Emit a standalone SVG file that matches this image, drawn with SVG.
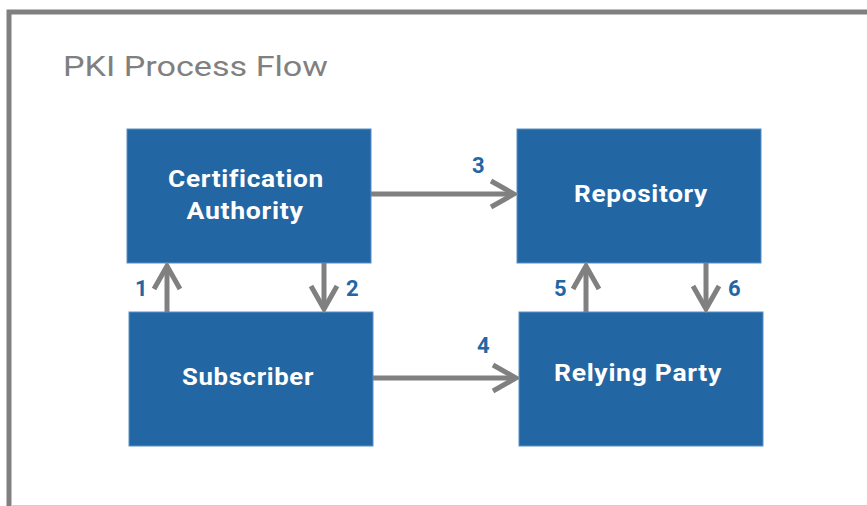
<svg xmlns="http://www.w3.org/2000/svg" width="867" height="506" viewBox="0 0 867 506">
<style>
.box{fill:#2366a4;stroke:#5b8fc4;stroke-width:1}
.lbl{font-family:Roboto,"Liberation Sans",sans-serif;font-weight:bold;font-size:23px;fill:#ffffff;text-anchor:middle;letter-spacing:0.6px}
.num{font-family:Roboto,"Liberation Sans",sans-serif;font-weight:bold;font-size:22px;fill:#2366a4}
.conn{stroke:#808080;stroke-width:5;fill:none;marker-end:url(#ah)}
</style>
<defs>
<marker id="ah" markerUnits="userSpaceOnUse" viewBox="-30 -18 34 36" refX="0" refY="0" markerWidth="34" markerHeight="36" orient="auto">
<path d="M -23 -13 L 0 0 L -23 13" fill="none" stroke="#808080" stroke-width="5"/>
</marker>
</defs>
<rect width="867" height="506" fill="#ffffff"/>
<path d="M 9 506 L 9 12 L 870 12" fill="none" stroke="#808080" stroke-width="5"/>
<line x1="11" y1="505.5" x2="867" y2="505.5" stroke="#d0d0d0" stroke-width="1"/>
<text x="63" y="76" font-family="Roboto,'Liberation Sans',sans-serif" font-size="27" fill="#808080" textLength="265" lengthAdjust="spacingAndGlyphs">PKI Process Flow</text>
<g id="ca">
<rect class="box" x="127" y="129" width="244" height="134"/>
<text class="lbl" x="246" y="187" textLength="156" lengthAdjust="spacingAndGlyphs">Certification</text>
<text class="lbl" x="245" y="219" textLength="117" lengthAdjust="spacingAndGlyphs">Authority</text>
</g>
<g id="repository">
<rect class="box" x="517" y="129" width="244" height="134"/>
<text class="lbl" x="641" y="202" textLength="134" lengthAdjust="spacingAndGlyphs">Repository</text>
</g>
<g id="subscriber">
<rect class="box" x="129" y="312" width="244" height="134"/>
<text class="lbl" x="248" y="385" textLength="132" lengthAdjust="spacingAndGlyphs">Subscriber</text>
</g>
<g id="relying">
<rect class="box" x="519" y="312" width="244" height="134"/>
<text class="lbl" x="638" y="381" textLength="168" lengthAdjust="spacingAndGlyphs">Relying Party</text>
</g>
<g id="connectors">
<line class="conn" x1="371" y1="194" x2="514" y2="194"/>
<line class="conn" x1="373" y1="378" x2="516" y2="378"/>
<line class="conn" x1="167" y1="312" x2="167" y2="266"/>
<line class="conn" x1="324" y1="263" x2="324" y2="309"/>
<line class="conn" x1="586" y1="312" x2="586" y2="266"/>
<line class="conn" x1="706" y1="263" x2="706" y2="309"/>
<text class="num" x="135" y="296">1</text>
<text class="num" x="346" y="296">2</text>
<text class="num" x="472" y="173">3</text>
<text class="num" x="477" y="353">4</text>
<text class="num" x="554" y="296">5</text>
<text class="num" x="728" y="296">6</text>
</g>
</svg>
